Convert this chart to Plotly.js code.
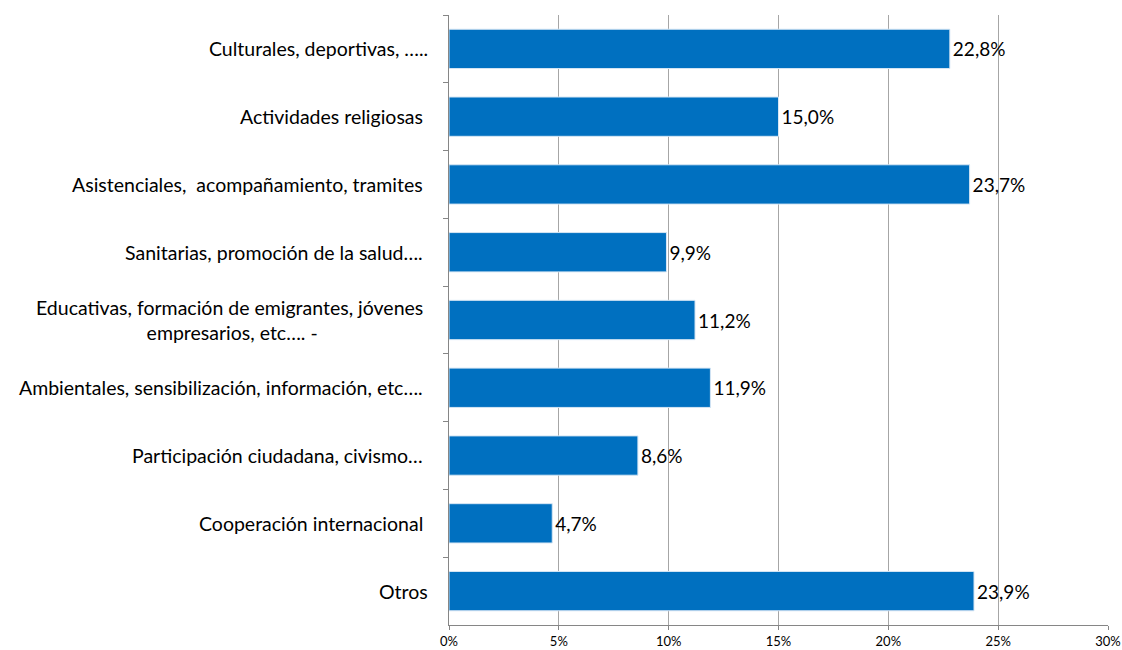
<!DOCTYPE html>
<html>
<head>
<meta charset="utf-8">
<script src="https://cdn.plot.ly/plotly-3.0.1.min.js"></script>
<style>html,body{margin:0;padding:0;background:#fff;}#chart{width:1122px;height:650px;}</style>
</head>
<body>
<div id="chart"></div>
<script>
const NB = "\u00A0";
const categories = [
  "Culturales, deportivas, …..",
  "Actividades religiosas" + NB,
  "Asistenciales,  acompañamiento, tramites" + NB,
  "Sanitarias, promoción de la salud…." + NB,
  "Educativas, formación de emigrantes, jóvenes" + NB + "<br>empresarios, etc…. -",
  "Ambientales, sensibilización, información, etc…." + NB,
  "Participación ciudadana, civismo…" + NB,
  "Cooperación internacional" + NB,
  "Otros"
];
const values = [22.8, 15.0, 23.7, 9.9, 11.2, 11.9, 8.6, 4.7, 23.9];
const tickVals = [0, 5, 10, 15, 20, 25, 30];
const tickText = ["0%", "5%", "10%", "15%", "20%", "25%", "30%"];

const ids = categories.map((c, i) => "c" + i);
const labels = values.map(v => v.toFixed(1).replace(".", ",") + "%");
const FONT = "Lato, 'Liberation Sans', sans-serif";

const trace = {
  type: "bar",
  orientation: "h",
  x: values,
  y: ids,
  text: labels,
  textposition: "outside",
  cliponaxis: false,
  textfont: {family: FONT, size: 19, color: "#000"},
  marker: {color: "#0070C0", line: {color: "#D6E6F4", width: 1}},
  hoverinfo: "none"
};

const annotations = categories.map((c, i) => ({
  xref: "paper", yref: "y", x: 0, y: ids[i],
  xanchor: "right", yanchor: "middle", xshift: -19,
  text: c, showarrow: false, align: "center",
  font: {family: FONT, size: 19.5, color: "#000"}
}));

const layout = {
  width: 1122, height: 650,
  margin: {l: 449, r: 14, t: 15, b: 25},
  paper_bgcolor: "#fff", plot_bgcolor: "#fff",
  bargap: 0.42,
  showlegend: false,
  xaxis: {
    range: [0, 30], tickvals: tickVals, ticktext: tickText,
    showgrid: true, gridcolor: "#A6A6A6", gridwidth: 1,
    zeroline: false, showline: true, linecolor: "#868686", linewidth: 1,
    ticks: "outside", ticklen: 4, tickcolor: "#868686",
    tickfont: {family: FONT, size: 13, color: "#000"},
    fixedrange: true
  },
  yaxis: {
    type: "category", categoryorder: "array", categoryarray: ids,
    autorange: "reversed",
    showticklabels: false,
    showgrid: false, zeroline: false,
    showline: true, linecolor: "#868686", linewidth: 1,
    ticks: "outside", tickson: "boundaries", ticklen: 5, tickcolor: "#868686",
    fixedrange: true
  },
  annotations: annotations
};

Plotly.newPlot("chart", [trace], layout, {displayModeBar: false, staticPlot: true});
</script>
</body>
</html>
